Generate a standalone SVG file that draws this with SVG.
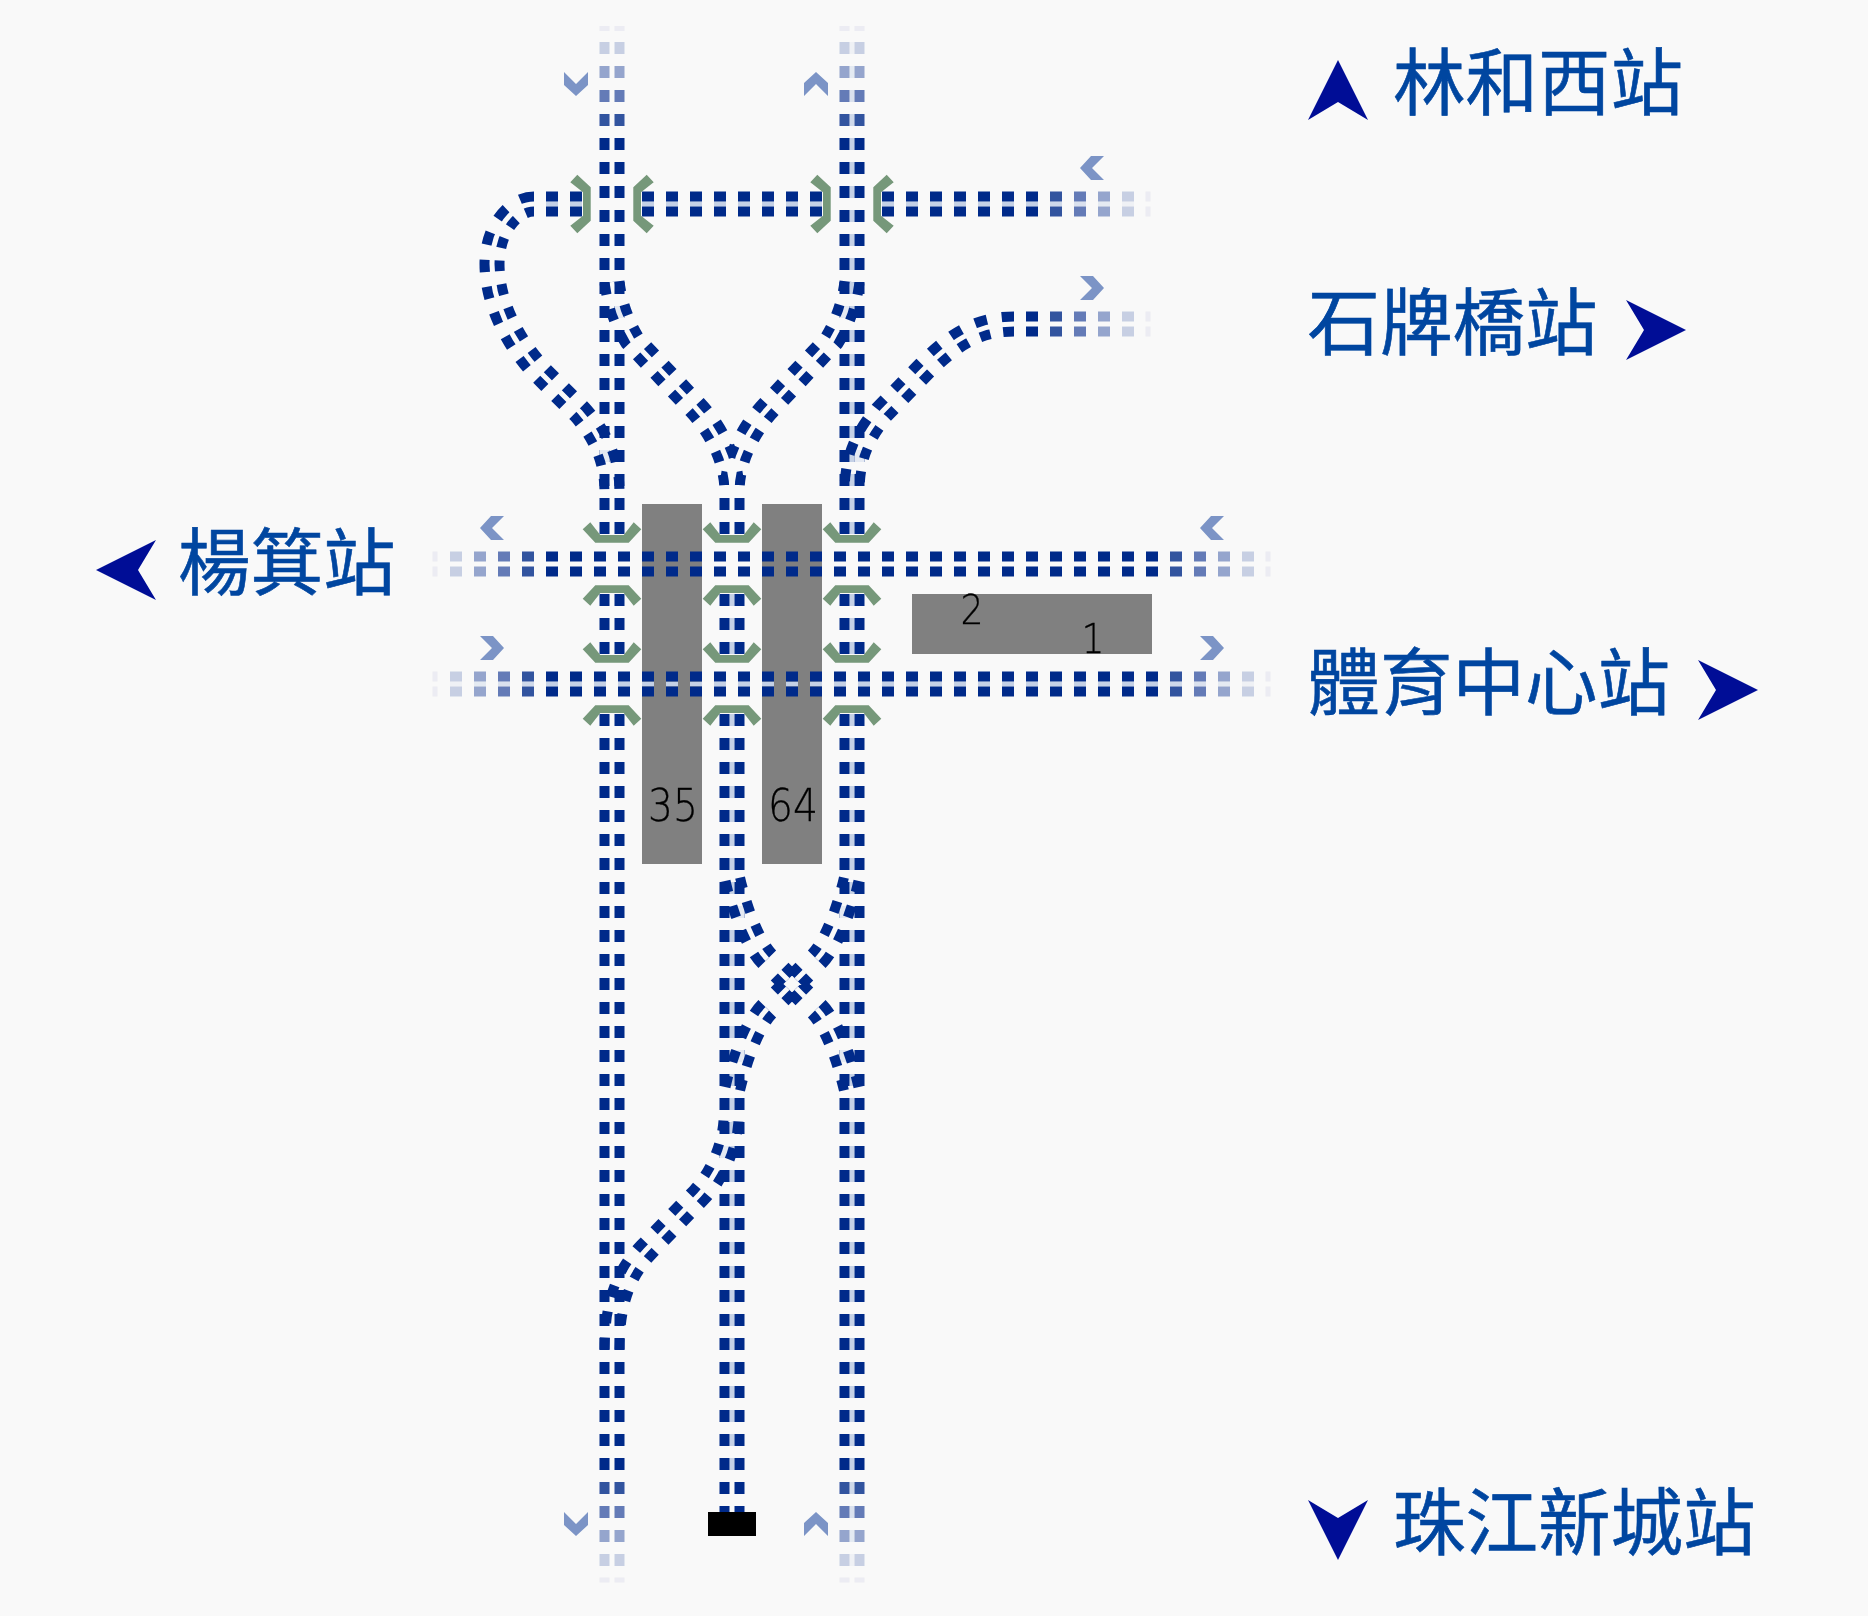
<svg xmlns="http://www.w3.org/2000/svg" width="1868" height="1616" viewBox="0 0 1868 1616">
<style>
.rail{fill:none;stroke:#002a8a;stroke-width:10;stroke-dasharray:12 12}
.band{fill:none;stroke:#c5d1e6;stroke-width:5;stroke-dasharray:12 12}
.curve{fill:none;stroke:#002a8a;stroke-width:25;stroke-dasharray:11.5 14}
.dot{fill:#002a8a}.bd{fill:#c5d1e6}
.pale{fill:#e4e9f2}
.sig{fill:#76987a}
.chev{fill:#7b94c6}
.plat{fill:#808080}
.num{font-family:"DejaVu Sans",sans-serif;font-weight:200;fill:#000;stroke:#000;stroke-width:.3;text-anchor:middle}
.st{font-family:"Noto Sans CJK TC",sans-serif;font-size:72.5px;font-weight:400;fill:#0046a0;stroke:#0046a0;stroke-width:.6}
.arr{fill:#001096}
.o1{opacity:.8}.o2{opacity:.6}.o3{opacity:.4}.o4{opacity:.2}.o5{opacity:.05}
</style>
<defs>
<filter id="soft" filterUnits="userSpaceOnUse" x="0" y="0" width="1868" height="1616"><feGaussianBlur stdDeviation="0.55"/></filter>
<g id="vp"><rect class="dot" x="-12.5" y="-6" width="10" height="12"/><rect class="dot" x="2.5" y="-6" width="10" height="12"/></g>
<g id="vpb"><rect class="bd" x="-2.5" y="-6" width="5" height="12"/><use href="#vp"/></g>
<g id="vf"><rect class="dot" x="-12.5" y="-2.5" width="10" height="5"/><rect class="dot" x="2.5" y="-2.5" width="10" height="5"/></g>
<g id="hp"><rect class="dot" x="-6" y="-12.5" width="12" height="10"/><rect class="dot" x="-6" y="2.5" width="12" height="10"/></g>
<g id="hpb"><rect class="bd" x="-6" y="-2.5" width="12" height="5"/><use href="#hp"/></g>
<g id="hf"><rect class="dot" x="-2.5" y="-12.5" width="5" height="10"/><rect class="dot" x="-2.5" y="2.5" width="5" height="10"/></g>
<polygon id="sg" class="sig" points="-29.3,-9.7 -21.7,-16.7 -11.7,-4 11.7,-4 21.7,-16.7 29.3,-9.7 16.7,3.7 -16.7,3.7"/>
<polygon id="cv" class="chev" points="-12,0 -1,-12 12,-12 0,0 12,12 -1,12"/>
<path id="curvePaths" d="M534,204 C514,204 492,228 492,264 C492,300 510,340 541,373 L580,412 C596,430 612,455 612,492
M612,282 C614,300 621,322 632,340 L695,407 C715,428 732,460 732,492
M852,282 C850,300 843,322 832,340 L769,407 C749,428 732,460 732,492
M1014,324 C975,324 950,342 920,373 L882,412 C868,430 852,450 852,492
M767.25,959.25 C755,947 741,916 732,876
M816.75,959.25 C829,947 843,916 852,876
M767.25,1008.75 C755,1021 741,1052 732,1092
M816.75,1008.75 C829,1021 843,1052 852,1092
M787.76,979.76 L779.27,971.27 M796.24,979.76 L804.73,971.27 M787.76,988.24 L779.27,996.73 M796.24,988.24 L804.73,996.73
M731,1121 C729,1150 715,1178 699,1195 L646,1250 C625,1272 612,1300 612,1350"/>
<mask id="gap" maskUnits="userSpaceOnUse" x="0" y="0" width="1868" height="1616">
<rect width="1868" height="1616" fill="#fff"/>
<use href="#curvePaths" fill="none" stroke="#000" stroke-width="5"/>
</mask>
</defs>
<rect width="1868" height="1616" fill="#f9f9f9"/>
<g id="platforms" filter="url(#soft)">
<g id="platform-35"><rect class="plat" x="642" y="504" width="60" height="360"/></g>
<g id="platform-64"><rect class="plat" x="762" y="504" width="60" height="360"/></g>
<g id="platform-1-2"><rect class="plat" x="912" y="594" width="240" height="60"/></g>
</g>
<g id="connectors" filter="url(#soft)">
<path class="band" d="M732,594V654M732,714V1470M852,138V534M852,594V654M852,714V1470"/>
<path class="band" d="M546,204H588M642,204H828M882,204H1044M546,684H1164"/>
<path class="rail" d="M604.5,138V534M604.5,594V654M604.5,714V1470M619.5,138V534M619.5,594V654M619.5,714V1470"/>
<path class="rail" d="M724.5,498V534M724.5,594V654M724.5,714V1518M739.5,498V534M739.5,594V654M739.5,714V1518"/>
<path class="rail" d="M844.5,138V534M844.5,594V654M844.5,714V1470M859.5,138V534M859.5,594V654M859.5,714V1470"/>
<path class="rail" d="M546,196.5H588M546,211.5H588M642,196.5H828M642,211.5H828M882,196.5H1044M882,211.5H1044"/>
<path class="rail" d="M1026,316.5H1044M1026,331.5H1044"/>
<path class="rail" d="M546,556.5H1164M546,571.5H1164M546,676.5H1164M546,691.5H1164"/>
<rect class="pale" x="614.5" y="306" width="10" height="12"/><rect class="pale" x="839.5" y="306" width="10" height="12"/>
<rect class="pale" x="734.5" y="906" width="10" height="12"/><rect class="pale" x="839.5" y="906" width="10" height="12"/>
<rect class="pale" x="734.5" y="1050" width="10" height="12"/><rect class="pale" x="839.5" y="1050" width="10" height="12"/>
<rect class="pale" x="719.5" y="1146" width="10" height="12"/><rect class="pale" x="599.5" y="450" width="10" height="12"/><rect class="pale" x="854.5" y="450" width="10" height="12"/>
<use href="#curvePaths" class="curve" mask="url(#gap)"/>
<use href="#vp" x="612" y="120" class="o1"/><use href="#vp" x="612" y="96" class="o2"/><use href="#vp" x="612" y="72" class="o3"/><use href="#vp" x="612" y="48" class="o4"/><use href="#vf" x="612" y="28.5" class="o5"/>
<use href="#vpb" x="852" y="120" class="o1"/><use href="#vpb" x="852" y="96" class="o2"/><use href="#vpb" x="852" y="72" class="o3"/><use href="#vpb" x="852" y="48" class="o4"/><use href="#vf" x="852" y="28.5" class="o5"/>
<use href="#vp" x="612" y="1488" class="o1"/><use href="#vp" x="612" y="1512" class="o2"/><use href="#vp" x="612" y="1536" class="o3"/><use href="#vp" x="612" y="1560" class="o4"/><use href="#vf" x="612" y="1580" class="o5"/>
<use href="#vpb" x="852" y="1488" class="o1"/><use href="#vpb" x="852" y="1512" class="o2"/><use href="#vpb" x="852" y="1536" class="o3"/><use href="#vpb" x="852" y="1560" class="o4"/><use href="#vf" x="852" y="1580" class="o5"/>
<use href="#hpb" x="1056" y="204" class="o1"/><use href="#hpb" x="1080" y="204" class="o2"/><use href="#hpb" x="1104" y="204" class="o3"/><use href="#hpb" x="1128" y="204" class="o4"/><use href="#hf" x="1148" y="204" class="o5"/>
<use href="#hp" x="1056" y="324" class="o1"/><use href="#hp" x="1080" y="324" class="o2"/><use href="#hp" x="1104" y="324" class="o3"/><use href="#hp" x="1128" y="324" class="o4"/><use href="#hf" x="1148" y="324" class="o5"/>
<use href="#hp" x="528" y="564" class="o1"/><use href="#hp" x="504" y="564" class="o2"/><use href="#hp" x="480" y="564" class="o3"/><use href="#hp" x="456" y="564" class="o4"/><use href="#hf" x="435" y="564" class="o5"/>
<use href="#hp" x="1176" y="564" class="o1"/><use href="#hp" x="1200" y="564" class="o2"/><use href="#hp" x="1224" y="564" class="o3"/><use href="#hp" x="1248" y="564" class="o4"/><use href="#hf" x="1268" y="564" class="o5"/>
<use href="#hpb" x="528" y="684" class="o1"/><use href="#hpb" x="504" y="684" class="o2"/><use href="#hpb" x="480" y="684" class="o3"/><use href="#hpb" x="456" y="684" class="o4"/><use href="#hf" x="435" y="684" class="o5"/>
<use href="#hpb" x="1176" y="684" class="o1"/><use href="#hpb" x="1200" y="684" class="o2"/><use href="#hpb" x="1224" y="684" class="o3"/><use href="#hpb" x="1248" y="684" class="o4"/><use href="#hf" x="1268" y="684" class="o5"/>
</g>
<g id="signals" filter="url(#soft)">
<use href="#sg" transform="translate(587,204) rotate(-90)"/><use href="#sg" transform="translate(637,204) rotate(90)"/>
<use href="#sg" transform="translate(827,204) rotate(-90)"/><use href="#sg" transform="translate(877,204) rotate(90)"/>
<use href="#sg" transform="translate(612,539)"/><use href="#sg" transform="translate(732,539)"/><use href="#sg" transform="translate(852,539)"/>
<use href="#sg" transform="translate(612,589) scale(1,-1)"/><use href="#sg" transform="translate(732,589) scale(1,-1)"/><use href="#sg" transform="translate(852,589) scale(1,-1)"/>
<use href="#sg" transform="translate(612,659)"/><use href="#sg" transform="translate(732,659)"/><use href="#sg" transform="translate(852,659)"/>
<use href="#sg" transform="translate(612,709) scale(1,-1)"/><use href="#sg" transform="translate(732,709) scale(1,-1)"/><use href="#sg" transform="translate(852,709) scale(1,-1)"/>
</g>
<g id="direction-marks" filter="url(#soft)">
<use href="#cv" transform="translate(576,84) rotate(-90)"/><use href="#cv" transform="translate(816,84) rotate(90)"/>
<use href="#cv" transform="translate(1092,168)"/><use href="#cv" transform="translate(1092,288) rotate(180)"/>
<use href="#cv" transform="translate(492,528)"/><use href="#cv" transform="translate(492,648) rotate(180)"/>
<use href="#cv" transform="translate(1212,528)"/><use href="#cv" transform="translate(1212,648) rotate(180)"/>
<use href="#cv" transform="translate(576,1524) rotate(-90)"/><use href="#cv" transform="translate(816,1524) rotate(90)"/>
</g>
<g id="buffer-stop" filter="url(#soft)"><rect x="708" y="1512" width="48" height="24" fill="#000"/></g>
<g id="platform-numbers" filter="url(#soft)">
<text class="num" x="673" y="821" font-size="45" textLength="50" lengthAdjust="spacingAndGlyphs">35</text>
<text class="num" x="793" y="821" font-size="45" textLength="50" lengthAdjust="spacingAndGlyphs">64</text>
<text class="num" x="972" y="624" font-size="41" textLength="23" lengthAdjust="spacingAndGlyphs">2</text>
<text class="num" x="1093" y="653" font-size="41" textLength="23" lengthAdjust="spacingAndGlyphs">1</text>
</g>
<g id="station-linhexi"><polygon class="arr" filter="url(#soft)" points="1338,60 1308,120 1338,102 1368,120"/><text class="st" x="1393" y="108.5">林和西站</text></g>
<g id="station-shipaiqiao"><text class="st" x="1307.5" y="348.5">石牌橋站</text><polygon class="arr" filter="url(#soft)" points="1686,330 1626,300 1644,330 1626,360"/></g>
<g id="station-yangji"><polygon class="arr" filter="url(#soft)" points="96,570 156,540 138,570 156,600"/><text class="st" x="178" y="588.5">楊箕站</text></g>
<g id="station-tiyuzhongxin"><text class="st" x="1307.5" y="708.5">體育中心站</text><polygon class="arr" filter="url(#soft)" points="1758,690 1698,660 1716,690 1698,720"/></g>
<g id="station-zhujiangxincheng"><polygon class="arr" filter="url(#soft)" points="1338,1560 1308,1500 1338,1518 1368,1500"/><text class="st" x="1393" y="1548.5">珠江新城站</text></g>
</svg>
